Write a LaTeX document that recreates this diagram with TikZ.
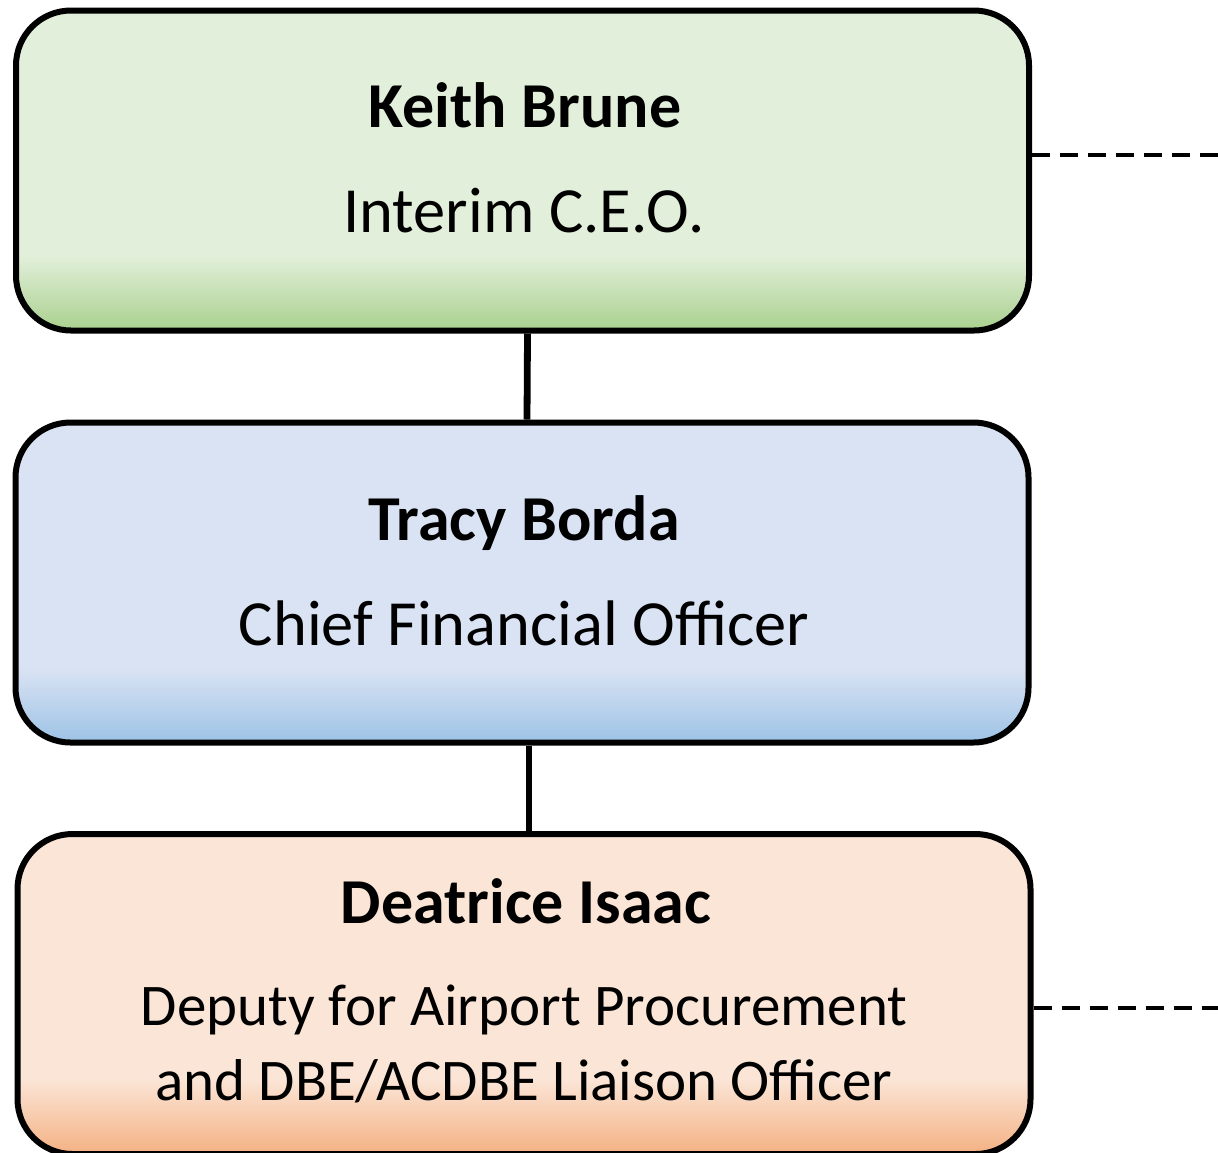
\documentclass[tikz,border=0pt]{standalone}
\usepackage{fontspec}
\setmainfont{Carlito}
% shaded band along the lower edge of a card, then its outline on top
\newcommand\cardfade[3]{%
  \begin{scope}
    \clip[rounded corners=27.5pt] (#1.south west) rectangle (#1.north east);
    \shade[top color=#2, bottom color=#3]
      ([yshift=37.5pt]#1.south west) rectangle (#1.south east);
  \end{scope}
  \draw[cardline] (#1.south west) rectangle (#1.north east);}
\begin{document}
\begin{tikzpicture}[x=0.5pt,y=-0.5pt,
  card/.style={outer sep=0pt, rounded corners=27.5pt,
    minimum width=506.5pt, minimum height=160pt, inner sep=0pt},
  cardline/.style={draw=black, line width=3pt, rounded corners=27.5pt},
  who/.style={anchor=base, font=\fontsize{32}{38}\selectfont\bfseries},
  role/.style={anchor=base, font=\fontsize{32.2}{38}\selectfont},
  smallrole/.style={anchor=base, font=\fontsize{29.5}{36}\selectfont},
  link/.style={line width=3.4pt},
  dotted link/.style={line width=2pt, dash pattern=on 9pt off 5pt}]
\definecolor{grnA}{HTML}{E2EFDA}
\definecolor{grnB}{HTML}{A9D18E}
\definecolor{bluA}{HTML}{DAE3F3}
\definecolor{bluB}{HTML}{9DC3E6}
\definecolor{orgA}{HTML}{FBE5D6}
\definecolor{orgB}{HTML}{F4B183}
\useasboundingbox (0,0) rectangle (1218,1152);

\node[card, fill=grnA] (ceo) at (522.5,170.5) {};
\cardfade{ceo}{grnA}{grnB}
\node[card, fill=bluA] (cfo) at (522,582.5) {};
\cardfade{cfo}{bluA}{bluB}
\node[card, fill=orgA] (dep) at (524,994) {};
\cardfade{dep}{orgA}{orgB}

\node[who] (ceoname) at (525,127) {Keith Brune};
\node[role] (ceorole) at (524,232) {Interim C.E.O.};
\node[who] (cfoname) at (524,540) {Tracy Borda};
\node[role] (cforole) at (524,645) {Chief Financial Officer};
\node[who] (depname) at (526,923) {Deatrice Isaac};
\node[smallrole] (deprole1) at (524,1025) {Deputy for Airport Procurement};
\node[smallrole] (deprole2) at (524,1100) {and DBE/ACDBE Liaison Officer};

\coordinate (ceoout) at (1218,155);
\coordinate (depout) at (1218,1008);
\draw[link] ([xshift=2.5pt,yshift=-1.5pt]ceo.south) -- ([xshift=2.5pt,yshift=1.5pt]cfo.north);
\draw[link] ([xshift=3.5pt,yshift=-1.5pt]cfo.south) -- ([xshift=2.5pt,yshift=1.5pt]dep.north);
\draw[dotted link] ([xshift=1.5pt]ceo.east |- ceoout) -- (ceoout);
\draw[dotted link] ([xshift=1.5pt]dep.east |- depout) -- (depout);
\end{tikzpicture}
\end{document}
